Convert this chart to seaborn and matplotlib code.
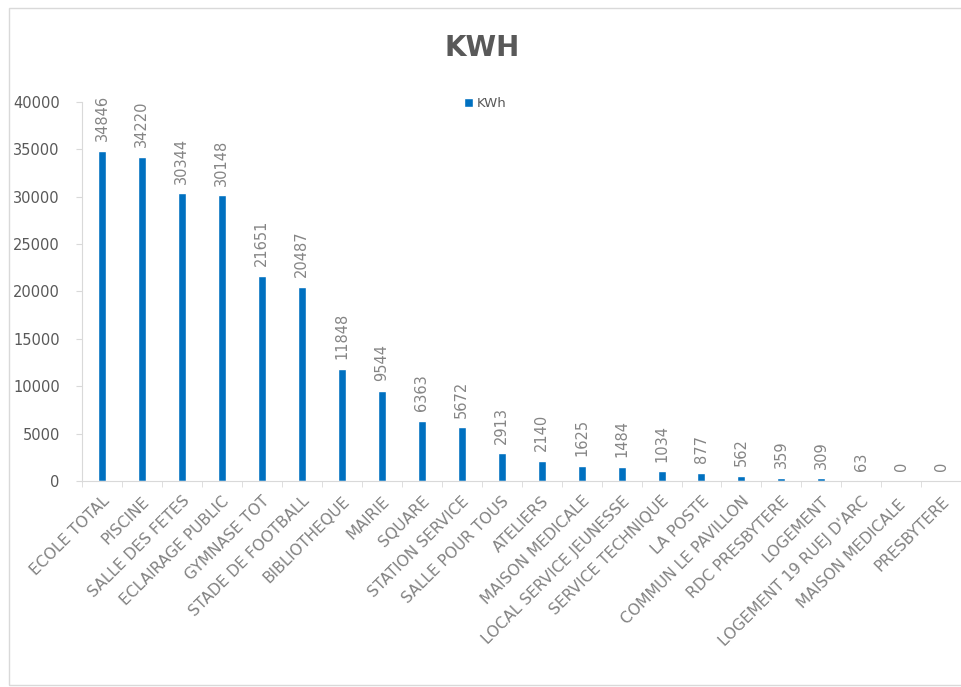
import numpy as np
import pandas as pd
import seaborn as sns
import matplotlib.pyplot as plt
from matplotlib.patches import Rectangle

# données
sites = ["ECOLE TOTAL", "PISCINE", "SALLE DES FETES", "ECLAIRAGE PUBLIC",
         "GYMNASE TOT", "STADE DE FOOTBALL", "BIBLIOTHEQUE", "MAIRIE",
         "SQUARE", "STATION SERVICE", "SALLE POUR TOUS", "ATELIERS",
         "MAISON MEDICALE", "LOCAL SERVICE JEUNESSE", "SERVICE TECHNIQUE",
         "LA POSTE", "COMMUN LE PAVILLON", "RDC PRESBYTERE", "LOGEMENT",
         "LOGEMENT 19 RUEJ D'ARC", "MAISON MEDICALE ", "PRESBYTERE"]
kwh = [34846, 34220, 30344, 30148, 21651, 20487, 11848, 9544, 6363, 5672,
       2913, 2140, 1625, 1484, 1034, 877, 562, 359, 309, 63, 0, 0]

df = pd.DataFrame({"site": sites, "KWh": kwh})

sns.set_style("white")
plt.rcParams['font.family'] = ['DejaVu Sans']

grey = "#595959"
blue = "#0070C0"

fig = plt.figure(figsize=(9.61, 6.87), dpi=100)
ax = fig.add_axes([0.0853, 0.2999, 0.915, 0.5516])

sns.barplot(data=df, x="site", y="KWh", color=blue, width=0.2,
            saturation=1, ax=ax, label="KWh")

for i, v in enumerate(kwh):
    ax.text(i, v + 1000, str(v), rotation=90, ha="center", va="bottom",
            fontsize=10.5, color="#858585")

ax.set_ylim(0, 40000)
ax.set_yticks(np.arange(0, 40001, 5000))
ax.set_xlim(-0.5, len(sites) - 0.5)
ax.set_xlabel("")
ax.set_ylabel("")

ax.set_xticks(np.arange(len(sites)))
ax.set_xticklabels(sites, rotation=45, ha="right", rotation_mode="anchor",
                   fontsize=11.2, color="#828282")
ax.set_xticks(np.arange(len(sites) + 1) - 0.5, minor=True)
ax.tick_params(axis="x", which="major", length=0, pad=9)
ax.tick_params(axis="x", which="minor", length=4, color="#d9d9d9", bottom=True)
ax.tick_params(axis="y", length=4, color="#d9d9d9", labelsize=10.5,
               labelcolor=grey, left=True, pad=12)

for s in ["top", "right"]:
    ax.spines[s].set_visible(False)
ax.spines["left"].set_color("#d9d9d9")
ax.spines["bottom"].set_color("#d9d9d9")

leg = ax.legend(loc="upper left", bbox_to_anchor=(0.421, 1.045), frameon=False,
                fontsize=9.5, handlelength=0.7, handleheight=0.7,
                handletextpad=0.3)
for t in leg.get_texts():
    t.set_color(grey)

fig.text(0.502, 0.93, "KWH", ha="center", va="center", fontsize=20,
         fontweight="bold", color=grey)

fig.patches.append(Rectangle((0.009, 0.003), 1.2, 0.985, transform=fig.transFigure,
                             fill=False, edgecolor="#d9d9d9", linewidth=1))

fig.savefig("out.png", dpi=100)
